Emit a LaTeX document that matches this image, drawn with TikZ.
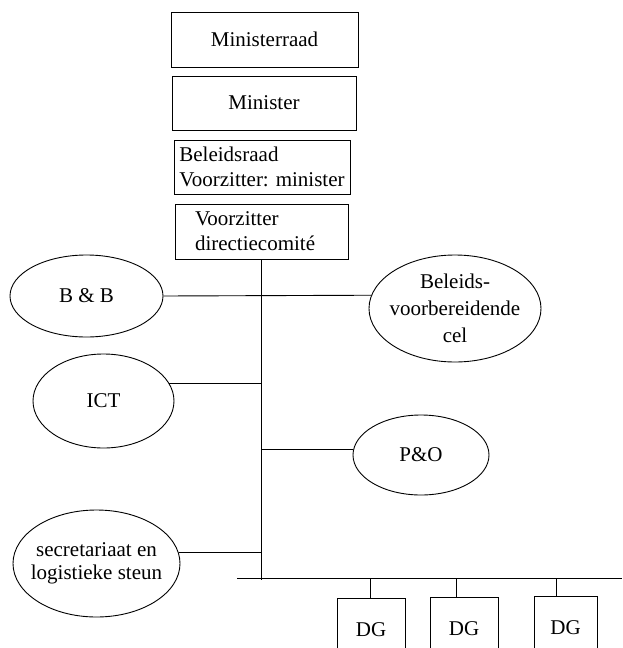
\documentclass[tikz,border=0pt]{standalone}
\usepackage{fontspec}
\setmainfont{Liberation Serif}
\usetikzlibrary{shapes.geometric}
\begin{document}
\begin{tikzpicture}[x=1pt,y=-1pt,
  every node/.style={font=\fontsize{21}{25}\selectfont, inner sep=0pt},
  box/.style={draw, line width=0.9pt, rectangle},
  oval/.style={draw, line width=0.9pt, ellipse, align=center, inner sep=-40pt},
  conn/.style={line width=0.9pt}]
\useasboundingbox (0,0) rectangle (622,648);
\clip (0,0) rectangle (622,648);
% top boxes
\node[box, minimum width=187pt, minimum height=55pt] (mr) at (264.5,39.5) {Ministerraad};
\node[box, minimum width=184pt, minimum height=54pt] (mn) at (264,103) {Minister};
\node[box, minimum width=176pt, minimum height=54pt, align=left] (br) at (262,167) {Beleidsraad\\Voorzitter: minister};
\node[box, minimum height=55pt, inner xsep=20pt, text width=133pt, align=left] (vz) at (261.5,231.5) {Voorzitter\\directiecomit\'e};
% ellipses
\node[oval, minimum width=153pt, minimum height=82pt] (bb) at (86.5,296) {B \& B};
\node[oval, minimum width=172pt, minimum height=107pt, font=\fontsize{21}{27}\selectfont] (cel) at (455,308.5) {Beleids-\\voorbereidende\\cel};
\node[oval, minimum width=141pt, minimum height=94pt] (ict) at (103.5,401) {ICT};
\node[oval, minimum width=136pt, minimum height=80pt] (po) at (421,455) {P\&O};
\node[oval, minimum width=167pt, minimum height=107pt, font=\fontsize{21}{23}\selectfont] (sec) at (96.5,563.5) {secretariaat en\\logistieke steun};
% DG boxes
\node[box, minimum width=68pt, minimum height=62pt, anchor=north] (dg1) at (371,598) {DG};
\node[box, minimum width=68pt, minimum height=62pt, anchor=north] (dg2) at (464,597) {DG};
\node[box, minimum width=63pt, minimum height=62pt, anchor=north] (dg3) at (565.5,596) {DG};
% connectors
\coordinate (vbot) at (261.5,580);
\coordinate (busL) at (237,578);
\coordinate (busR) at (622,578);
\coordinate (t1) at (370,578);
\coordinate (t2) at (456,578);
\coordinate (t3) at (556,578);
\draw[conn] (vz.south) -- (vz.south |- vbot);
\draw[conn] (bb.east) -- (cel.171.5);
\draw[conn] (ict.15.5) -- (ict.15.5 -| vz.south);
\draw[conn] (po.175.8) -- (po.175.8 -| vz.south);
\draw[conn] (sec.8) -- (sec.8 -| vz.south);
\draw[conn] (busL) -- (busR);
\draw[conn] (t1) -- (t1 |- dg1.north);
\draw[conn] (t2) -- (t2 |- dg2.north);
\draw[conn] (t3) -- (t3 |- dg3.north);
\end{tikzpicture}
\end{document}
